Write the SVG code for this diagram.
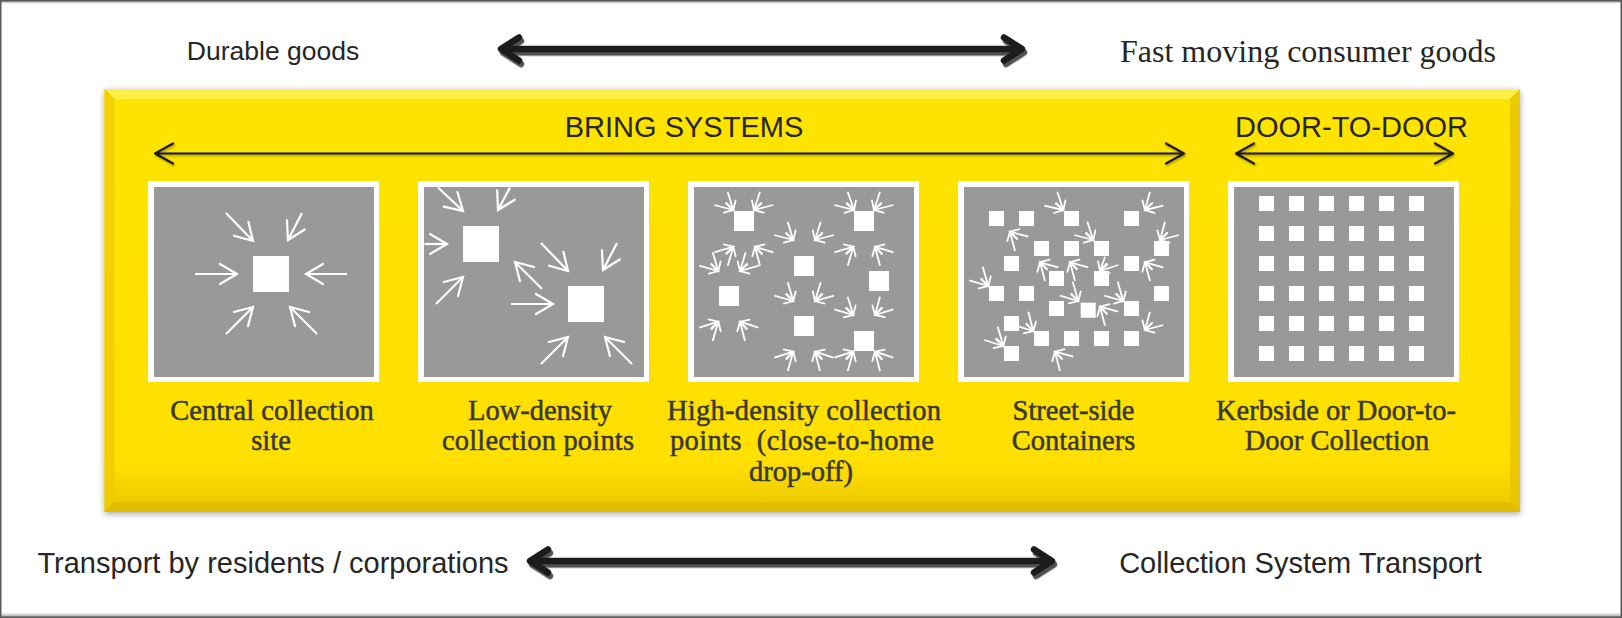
<svg xmlns="http://www.w3.org/2000/svg" width="1622" height="618" viewBox="0 0 1622 618">
  <defs>
    <style>
      .sans{font-family:"Liberation Sans",Arial,sans-serif;fill:#262626}
      .serif{font-family:"Liberation Serif","Times New Roman",serif;fill:#262626}
      .lbl{font-family:"Liberation Serif","Times New Roman",serif;font-size:28.5px;fill:#383838;stroke:#383838;stroke-width:0.5px;text-anchor:middle;white-space:pre}
      .frame{fill:#fff}
      .well{fill:#999}
      .dot{fill:#fff}
      .pa{stroke:#fff;stroke-width:2.2;fill:none;marker-end:url(#ah)}
      .pb{stroke:#fff;stroke-width:1.8;fill:none;marker-end:url(#ahs)}
      .big{stroke:#1a1a1a;stroke-width:6.5;fill:none;stroke-linecap:round;stroke-linejoin:round}
      .thin{stroke:#1a1a1a;stroke-width:2.2;fill:none;stroke-linecap:round;stroke-linejoin:round}
    </style>
    <marker id="ah" markerUnits="userSpaceOnUse" orient="auto" overflow="visible" refX="0" refY="0" markerWidth="1" markerHeight="1">
      <path d="M-17,-10 L0,0 L-17,10" fill="none" stroke="#fff" stroke-width="2.2" stroke-linecap="round"/>
    </marker>
    <marker id="ahs" markerUnits="userSpaceOnUse" orient="auto" overflow="visible" refX="0" refY="0" markerWidth="1" markerHeight="1">
      <path d="M-8.5,-5 L0,0 L-8.5,5" fill="none" stroke="#fff" stroke-width="1.8" stroke-linecap="round"/>
    </marker>
    <linearGradient id="yellow" x1="0" y1="0" x2="0" y2="1">
      <stop offset="0" stop-color="#FFE400"/>
      <stop offset="0.88" stop-color="#FFE000"/>
      <stop offset="1" stop-color="#E9C600"/>
    </linearGradient>
    <linearGradient id="topEdge" x1="0" y1="0" x2="0" y2="1">
      <stop offset="0" stop-color="#555"/>
      <stop offset="1" stop-color="#fff" stop-opacity="0"/>
    </linearGradient>
    <linearGradient id="botEdge" x1="0" y1="0" x2="0" y2="1">
      <stop offset="0" stop-color="#fff" stop-opacity="0"/>
      <stop offset="1" stop-color="#666"/>
    </linearGradient>
    <filter id="boxShadow" x="-5%" y="-10%" width="110%" height="120%">
      <feDropShadow dx="0" dy="2" stdDeviation="3" flood-color="#000" flood-opacity="0.35"/>
    </filter>
    <filter id="arrowShadow" x="-5%" y="-50%" width="110%" height="200%">
      <feDropShadow dx="2" dy="3.5" stdDeviation="0.6" flood-color="#333" flood-opacity="0.85"/>
    </filter>
    <filter id="lineShadow" x="-5%" y="-50%" width="110%" height="200%">
      <feDropShadow dx="1" dy="1.5" stdDeviation="0.8" flood-color="#000" flood-opacity="0.35"/>
    </filter>
  </defs>

  <!-- page and frame -->
  <rect x="0" y="0" width="1622" height="618" fill="#fff"/>
  <rect x="0" y="0" width="1622" height="5" fill="url(#topEdge)"/>
  <rect x="0" y="611" width="1622" height="7" fill="url(#botEdge)"/>
  <rect x="0.75" y="0.75" width="1620.5" height="616.5" fill="none" stroke="#5a5a5a" stroke-width="1.5"/>

  <!-- goods and transport labels -->
  <g id="axis-labels">
    <text class="sans" x="273" y="60" font-size="26.5" text-anchor="middle">Durable goods</text>
    <text class="serif" x="1308" y="62" font-size="32" text-anchor="middle" textLength="376" lengthAdjust="spacingAndGlyphs">Fast moving consumer goods</text>
    <text class="sans" x="273" y="573" font-size="29" text-anchor="middle">Transport by residents / corporations</text>
    <text class="sans" x="1300.5" y="573" font-size="29" text-anchor="middle">Collection System Transport</text>
  </g>

  <!-- yellow system box -->
  <g id="system-box">
    <rect x="104.5" y="89" width="1415.5" height="423" fill="url(#yellow)" filter="url(#boxShadow)"/>
    <polygon points="104.5,89 1520,89 1510,99 114.5,99" fill="#FFF35A" opacity="0.8"/>
    <polygon points="104.5,89 114.5,99 114.5,502 104.5,512" fill="#F0CB00" opacity="0.8"/>
    <polygon points="1520,89 1520,512 1510,502 1510,99" fill="#E8C200" opacity="0.8"/>
    <polygon points="104.5,512 1520,512 1510,502 114.5,502" fill="#DDB800" opacity="0.7"/>
    <text class="sans" x="684" y="137" font-size="29" text-anchor="middle">BRING SYSTEMS</text>
    <text class="sans" x="1351.5" y="137" font-size="29" text-anchor="middle">DOOR-TO-DOOR</text>
  </g>

  <!-- connectors -->
  <g id="connectors">
    <g filter="url(#arrowShadow)">
      <path class="big" d="M504,49 H1019 M519,37.5 L501,49 L519,60.5 M1004,37.5 L1022,49 L1004,60.5"/>
      <path class="big" d="M533,561 H1049 M548,549.5 L530,561 L548,572.5 M1034,549.5 L1052,561 L1034,572.5"/>
    </g>
    <g filter="url(#lineShadow)">
      <path class="thin" d="M156,153.5 H1183 M173,143.5 L155,153.5 L173,163.5 M1166,143.5 L1184,153.5 L1166,163.5"/>
      <path class="thin" d="M1237,153.5 H1452 M1254,143.5 L1236,153.5 L1254,163.5 M1435,143.5 L1453,153.5 L1435,163.5"/>
    </g>
  </g>

  <!-- central collection site -->
  <g id="central-site">
    <rect class="frame" x="148" y="181" width="231" height="201"/>
    <rect class="well" x="154" y="187" width="220" height="190"/>
    <rect class="dot" x="253" y="256" width="36" height="36"/>
    <line class="pa" x1="195" y1="274" x2="237" y2="274"/>
    <line class="pa" x1="347" y1="274" x2="306" y2="274"/>
    <line class="pa" x1="226" y1="213" x2="253" y2="241"/>
    <line class="pa" x1="302" y1="213" x2="288" y2="240"/>
    <line class="pa" x1="226" y1="334" x2="253" y2="307"/>
    <line class="pa" x1="317" y1="334" x2="290" y2="307"/>
    <text class="lbl" x="272" y="420">Central collection</text>
    <text class="lbl" x="271" y="450">site</text>
  </g>

  <!-- low-density collection points -->
  <g id="low-density">
    <rect class="frame" x="418" y="181" width="231" height="201"/>
    <rect class="well" x="424" y="187" width="220" height="190"/>
    <rect class="dot" x="463" y="226" width="36" height="36"/>
    <rect class="dot" x="568" y="286" width="36" height="36"/>
    <line class="pa" x1="438" y1="187.5" x2="463" y2="211"/>
    <line class="pa" x1="510" y1="187.5" x2="498" y2="210"/>
    <line class="pa" x1="424.5" y1="244" x2="447" y2="244"/>
    <line class="pa" x1="436" y1="304" x2="463" y2="277"/>
    <line class="pa" x1="542" y1="289" x2="515" y2="262"/>
    <line class="pa" x1="541" y1="243" x2="568" y2="271"/>
    <line class="pa" x1="617" y1="243" x2="603" y2="270"/>
    <line class="pa" x1="511" y1="304" x2="553" y2="304"/>
    <line class="pa" x1="541" y1="364" x2="568" y2="337"/>
    <line class="pa" x1="632" y1="364" x2="605" y2="337"/>
    <text class="lbl" x="540" y="420">Low-density</text>
    <text class="lbl" x="538" y="450" textLength="192" lengthAdjust="spacing">collection points</text>
  </g>

  <!-- high-density collection points -->
  <g id="high-density">
    <rect class="frame" x="688" y="181" width="231" height="201"/>
    <rect class="well" x="694" y="187" width="220" height="190"/>
    <rect class="dot" x="734" y="211" width="20" height="20"/>
    <rect class="dot" x="854" y="211" width="20" height="20"/>
    <rect class="dot" x="794" y="256" width="20" height="20"/>
    <rect class="dot" x="869" y="271" width="20" height="20"/>
    <rect class="dot" x="719" y="286" width="20" height="20"/>
    <rect class="dot" x="794" y="316" width="20" height="20"/>
    <rect class="dot" x="854" y="331" width="20" height="20"/>
    <line class="pb" x1="727.7" y1="191.7" x2="733.3" y2="210"/>
    <line class="pb" x1="714.3" y1="205" x2="733.3" y2="210"/>
    <line class="pb" x1="760" y1="191.7" x2="754" y2="210"/>
    <line class="pb" x1="773.3" y1="205" x2="754" y2="210"/>
    <line class="pb" x1="847.7" y1="191.7" x2="854" y2="210"/>
    <line class="pb" x1="834.3" y1="205" x2="854" y2="210"/>
    <line class="pb" x1="880" y1="191.7" x2="874" y2="210"/>
    <line class="pb" x1="893.3" y1="205" x2="874" y2="210"/>
    <line class="pb" x1="787.7" y1="221.7" x2="793.3" y2="240"/>
    <line class="pb" x1="774.3" y1="235" x2="793.3" y2="240"/>
    <line class="pb" x1="820.7" y1="221.7" x2="815" y2="240"/>
    <line class="pb" x1="834" y1="235" x2="815" y2="240"/>
    <line class="pb" x1="712.7" y1="252.3" x2="718.3" y2="271"/>
    <line class="pb" x1="699.3" y1="265.7" x2="718.3" y2="271"/>
    <line class="pb" x1="727.7" y1="265.7" x2="733.3" y2="246.7"/>
    <line class="pb" x1="714.3" y1="252.3" x2="733.3" y2="246.7"/>
    <line class="pb" x1="745.7" y1="252.3" x2="740" y2="271"/>
    <line class="pb" x1="759" y1="265.7" x2="740" y2="271"/>
    <line class="pb" x1="760" y1="265.7" x2="755" y2="246.7"/>
    <line class="pb" x1="773.3" y1="252.3" x2="755" y2="246.7"/>
    <line class="pb" x1="847.7" y1="265.7" x2="853.3" y2="246.7"/>
    <line class="pb" x1="834.3" y1="252.3" x2="853.3" y2="246.7"/>
    <line class="pb" x1="880" y1="265.7" x2="875" y2="246.7"/>
    <line class="pb" x1="893.3" y1="252.3" x2="875" y2="246.7"/>
    <line class="pb" x1="787.7" y1="282.3" x2="793.3" y2="301"/>
    <line class="pb" x1="774.3" y1="295.7" x2="793.3" y2="301"/>
    <line class="pb" x1="820.7" y1="282.3" x2="815" y2="301"/>
    <line class="pb" x1="834" y1="295.7" x2="815" y2="301"/>
    <line class="pb" x1="847.7" y1="296.7" x2="853.3" y2="315"/>
    <line class="pb" x1="834.3" y1="309.3" x2="853.3" y2="315"/>
    <line class="pb" x1="880" y1="296.7" x2="875" y2="315"/>
    <line class="pb" x1="893.3" y1="309.3" x2="875" y2="315"/>
    <line class="pb" x1="712.7" y1="341" x2="718.3" y2="321.7"/>
    <line class="pb" x1="699.3" y1="327.7" x2="718.3" y2="321.7"/>
    <line class="pb" x1="745" y1="341" x2="740" y2="321.7"/>
    <line class="pb" x1="758.3" y1="327.7" x2="740" y2="321.7"/>
    <line class="pb" x1="787.7" y1="371" x2="793.3" y2="351.7"/>
    <line class="pb" x1="774.3" y1="357.7" x2="793.3" y2="351.7"/>
    <line class="pb" x1="820" y1="371" x2="815" y2="351.7"/>
    <line class="pb" x1="833.3" y1="357.7" x2="815" y2="351.7"/>
    <line class="pb" x1="847.7" y1="371" x2="853.3" y2="351.7"/>
    <line class="pb" x1="834.3" y1="357.7" x2="853.3" y2="351.7"/>
    <line class="pb" x1="880" y1="371" x2="875" y2="351.7"/>
    <line class="pb" x1="893.3" y1="357.7" x2="875" y2="351.7"/>
    <text class="lbl" x="804" y="420" textLength="274" lengthAdjust="spacing">High-density collection</text>
    <text class="lbl" x="802" y="450" textLength="264" lengthAdjust="spacing">points  (close-to-home</text>
    <text class="lbl" x="801" y="481">drop-off)</text>
  </g>

  <!-- street-side containers -->
  <g id="street-side">
    <rect class="frame" x="958" y="181" width="231" height="201"/>
    <rect class="well" x="964" y="187" width="220" height="190"/>
    <g class="dot">
      <rect x="989" y="211" width="15" height="15"/>
      <rect x="1019" y="211" width="15" height="15"/>
      <rect x="1064" y="211" width="15" height="15"/>
      <rect x="1124" y="211" width="15" height="15"/>
      <rect x="1034" y="241" width="15" height="15"/>
      <rect x="1064" y="241" width="15" height="15"/>
      <rect x="1094" y="241" width="15" height="15"/>
      <rect x="1154" y="241" width="15" height="15"/>
      <rect x="1004" y="256" width="15" height="15"/>
      <rect x="1124" y="256" width="15" height="15"/>
      <rect x="1049" y="271" width="15" height="15"/>
      <rect x="1094" y="271" width="15" height="15"/>
      <rect x="989" y="286" width="15" height="15"/>
      <rect x="1019" y="286" width="15" height="15"/>
      <rect x="1154" y="286" width="15" height="15"/>
      <rect x="1049" y="301" width="15" height="15"/>
      <rect x="1080.7" y="302.7" width="15" height="15"/>
      <rect x="1124" y="301" width="15" height="15"/>
      <rect x="1004" y="316" width="15" height="15"/>
      <rect x="1034" y="331" width="15" height="15"/>
      <rect x="1064" y="331" width="15" height="15"/>
      <rect x="1094" y="331" width="15" height="15"/>
      <rect x="1124" y="331" width="15" height="15"/>
      <rect x="1004" y="346" width="15" height="15"/>
    </g>
    <line class="pb" x1="1057.3" y1="191.7" x2="1063.3" y2="210"/>
    <line class="pb" x1="1044.3" y1="205.7" x2="1063.3" y2="210"/>
    <line class="pb" x1="1150" y1="191.7" x2="1145" y2="210"/>
    <line class="pb" x1="1163.3" y1="205.7" x2="1145" y2="210"/>
    <line class="pb" x1="1015" y1="251" x2="1010" y2="231.7"/>
    <line class="pb" x1="1028.3" y1="236.7" x2="1010" y2="231.7"/>
    <line class="pb" x1="1087.3" y1="221.7" x2="1093.3" y2="240"/>
    <line class="pb" x1="1074.3" y1="235" x2="1093.3" y2="240"/>
    <line class="pb" x1="1165" y1="221.7" x2="1160" y2="240"/>
    <line class="pb" x1="1179" y1="235" x2="1160" y2="240"/>
    <line class="pb" x1="982.7" y1="266.7" x2="988.3" y2="286"/>
    <line class="pb" x1="969.3" y1="280.3" x2="988.3" y2="286"/>
    <line class="pb" x1="1045" y1="281" x2="1040" y2="262.3"/>
    <line class="pb" x1="1058.3" y1="267.3" x2="1040" y2="262.3"/>
    <line class="pb" x1="1075" y1="281" x2="1070" y2="262.3"/>
    <line class="pb" x1="1088.3" y1="267.3" x2="1070" y2="262.3"/>
    <line class="pb" x1="1105" y1="256.7" x2="1100" y2="271"/>
    <line class="pb" x1="1118.3" y1="265" x2="1100" y2="271"/>
    <line class="pb" x1="1150" y1="281" x2="1145" y2="262.3"/>
    <line class="pb" x1="1163.3" y1="267.3" x2="1145" y2="262.3"/>
    <line class="pb" x1="1072.7" y1="281.7" x2="1078.3" y2="301"/>
    <line class="pb" x1="1060" y1="295.7" x2="1078.3" y2="301"/>
    <line class="pb" x1="1117.7" y1="281.7" x2="1123.3" y2="301"/>
    <line class="pb" x1="1104.3" y1="295.7" x2="1123.3" y2="301"/>
    <line class="pb" x1="1105" y1="325.7" x2="1100" y2="306.7"/>
    <line class="pb" x1="1118.3" y1="311.7" x2="1100" y2="306.7"/>
    <line class="pb" x1="1150" y1="311.7" x2="1145" y2="330"/>
    <line class="pb" x1="1163.3" y1="325" x2="1145" y2="330"/>
    <line class="pb" x1="1028.3" y1="311.7" x2="1033.3" y2="331"/>
    <line class="pb" x1="1019" y1="326.7" x2="1033.3" y2="331"/>
    <line class="pb" x1="997.7" y1="326.7" x2="1003.3" y2="346"/>
    <line class="pb" x1="984.3" y1="340" x2="1003.3" y2="346"/>
    <line class="pb" x1="1060" y1="371" x2="1055" y2="351.7"/>
    <line class="pb" x1="1073.3" y1="356.7" x2="1055" y2="351.7"/>
    <text class="lbl" x="1073.5" y="420">Street-side</text>
    <text class="lbl" x="1073.5" y="450">Containers</text>
  </g>

  <!-- kerbside / door-to-door collection -->
  <g id="kerbside">
    <rect class="frame" x="1228" y="181" width="231" height="201"/>
    <rect class="well" x="1234" y="187" width="220" height="190"/>
    <g class="dot">
      <rect x="1259" y="196" width="15" height="15"/><rect x="1289" y="196" width="15" height="15"/><rect x="1319" y="196" width="15" height="15"/><rect x="1349" y="196" width="15" height="15"/><rect x="1379" y="196" width="15" height="15"/><rect x="1409" y="196" width="15" height="15"/>
      <rect x="1259" y="226" width="15" height="15"/><rect x="1289" y="226" width="15" height="15"/><rect x="1319" y="226" width="15" height="15"/><rect x="1349" y="226" width="15" height="15"/><rect x="1379" y="226" width="15" height="15"/><rect x="1409" y="226" width="15" height="15"/>
      <rect x="1259" y="256" width="15" height="15"/><rect x="1289" y="256" width="15" height="15"/><rect x="1319" y="256" width="15" height="15"/><rect x="1349" y="256" width="15" height="15"/><rect x="1379" y="256" width="15" height="15"/><rect x="1409" y="256" width="15" height="15"/>
      <rect x="1259" y="286" width="15" height="15"/><rect x="1289" y="286" width="15" height="15"/><rect x="1319" y="286" width="15" height="15"/><rect x="1349" y="286" width="15" height="15"/><rect x="1379" y="286" width="15" height="15"/><rect x="1409" y="286" width="15" height="15"/>
      <rect x="1259" y="316" width="15" height="15"/><rect x="1289" y="316" width="15" height="15"/><rect x="1319" y="316" width="15" height="15"/><rect x="1349" y="316" width="15" height="15"/><rect x="1379" y="316" width="15" height="15"/><rect x="1409" y="316" width="15" height="15"/>
      <rect x="1259" y="346" width="15" height="15"/><rect x="1289" y="346" width="15" height="15"/><rect x="1319" y="346" width="15" height="15"/><rect x="1349" y="346" width="15" height="15"/><rect x="1379" y="346" width="15" height="15"/><rect x="1409" y="346" width="15" height="15"/>
    </g>
    <text class="lbl" x="1336" y="420">Kerbside or Door-to-</text>
    <text class="lbl" x="1337" y="450">Door Collection</text>
  </g>
</svg>
